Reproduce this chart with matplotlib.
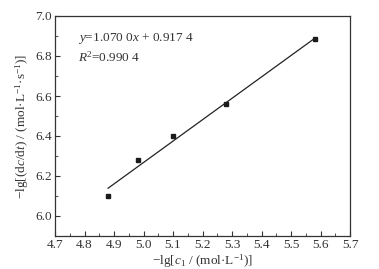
import matplotlib
matplotlib.use("Agg")
import matplotlib.pyplot as plt
from matplotlib.ticker import MultipleLocator

plt.rcParams['font.family'] = ['Liberation Serif', 'DejaVu Serif']
plt.rcParams['mathtext.fontset'] = 'custom'
plt.rcParams['mathtext.rm'] = 'Liberation Serif'
plt.rcParams['mathtext.it'] = 'Liberation Serif:italic'

# data
lg_c = [4.88, 4.98, 5.10, 5.28, 5.58]
lg_rate = [6.10, 6.28, 6.40, 6.56, 6.885]
slope = 1.0700
intercept = 0.9174
r2 = 0.9904

fig = plt.figure(figsize=(3.79, 2.69), dpi=100)
ax = fig.add_axes([55/379, 1-236/269, (350-55)/379, (236-16)/269])

ax.plot(lg_c, lg_rate, 's', color='#1a1a1a', markersize=3.5)
xf = [min(lg_c), max(lg_c)]
ax.plot(xf, [slope*v + intercept for v in xf], '-', color='#222222', lw=0.9)

ax.set_xlim(4.7, 5.7)
ax.set_ylim(5.9, 7.0)
ax.xaxis.set_major_locator(MultipleLocator(0.1))
ax.xaxis.set_minor_locator(MultipleLocator(0.05))
ax.yaxis.set_minor_locator(MultipleLocator(0.1))
ax.set_yticks([6.0, 6.2, 6.4, 6.6, 6.8, 7.0])
ax.tick_params(which='both', direction='in', top=False, right=False, labelsize=9.5,
               colors='#333333', pad=2.5)
ax.tick_params(which='major', length=3.5)
ax.tick_params(which='minor', length=2)
for s in ax.spines.values():
    s.set_linewidth(0.9)
    s.set_color('#333333')

ax.text(0.078, 0.9, '$y$=1.070 0$x$ + 0.917 4', transform=ax.transAxes, fontsize=9.5,
        color='#333333', va='center')
ax.text(0.078, 0.814, '$R$$^2$=0.990 4', transform=ax.transAxes, fontsize=9.5,
        color='#333333', va='center')

ax.set_xlabel('\u2212lg[$c$$_1$ / (mol\u00b7L$^{\u22121}$)]', fontsize=9.5, color='#333333', labelpad=1)
ax.set_ylabel('\u2212lg[(d$c$/d$t$) / (mol\u00b7L$^{\u22121}$\u00b7s$^{\u22121}$)]', fontsize=9.5,
              color='#333333', labelpad=3)

fig.savefig('out.png', dpi=100)
